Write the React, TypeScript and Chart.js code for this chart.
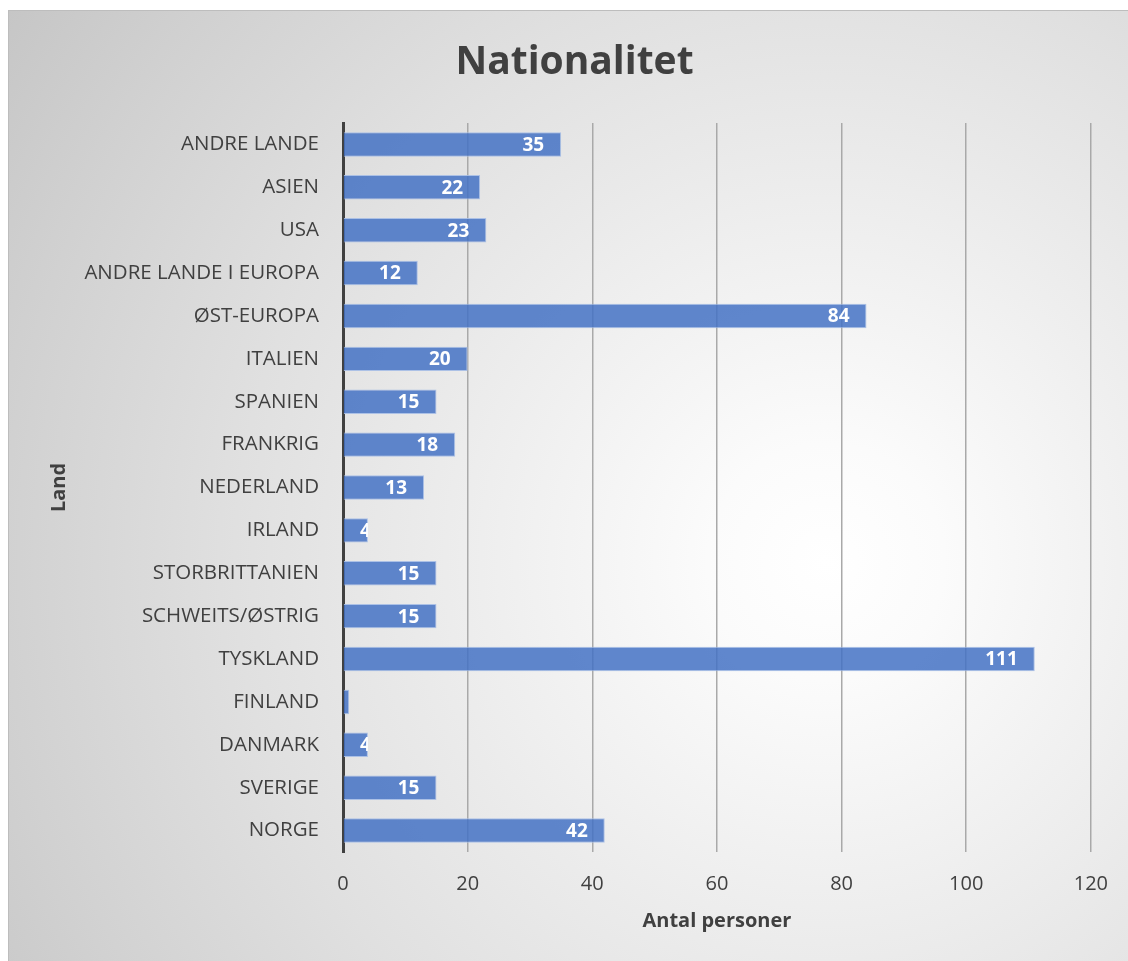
import React, { useEffect, useRef } from "react";
import { Chart, registerables } from "chart.js";

Chart.register(...registerables);

const categories = [
  "ANDRE LANDE",
  "ASIEN",
  "USA",
  "ANDRE LANDE I EUROPA",
  "ØST-EUROPA",
  "ITALIEN",
  "SPANIEN",
  "FRANKRIG",
  "NEDERLAND",
  "IRLAND",
  "STORBRITTANIEN",
  "SCHWEITS/ØSTRIG",
  "TYSKLAND",
  "FINLAND",
  "DANMARK",
  "SVERIGE",
  "NORGE",
];
const values = [35, 22, 23, 12, 84, 20, 15, 18, 13, 4, 15, 15, 111, 1, 4, 15, 42];
const chartTitle = "Nationalitet";
const xTitle = "Antal personer";
const yTitle = "Land";
const xMin = 0;
const xMax = 120;
const xStep = 20;

const FONT = "'Open Sans', 'Noto Sans', sans-serif";

const chartTitlePlugin = {
  id: "chartTitlePlugin",
  afterDraw(chart: any) {
    const { ctx } = chart;
    ctx.save();
    ctx.font = `bold 39px ${FONT}`;
    ctx.fillStyle = "#404040";
    ctx.textAlign = "center";
    ctx.textBaseline = "middle";
    ctx.fillText(chartTitle, chart.width / 2 + 6, 52);
    ctx.restore();
  },
};

const insideEndLabels = {
  id: "insideEndLabels",
  afterDatasetsDraw(chart: any) {
    const { ctx } = chart;
    const meta = chart.getDatasetMeta(0);
    ctx.save();
    ctx.font = `bold 19px ${FONT}`;
    ctx.fillStyle = "#ffffff";
    ctx.textBaseline = "middle";
    ctx.textAlign = "left";
    meta.data.forEach((bar: any, i: number) => {
      const { x, y, base, height } = bar.getProps(["x", "y", "base", "height"], true);
      const w = x - base;
      if (w < 10) return;
      const text = String(values[i]);
      const tw = ctx.measureText(text).width;
      let tx = x - 17 - tw;
      if (tx < base + 6) tx = x - 8;
      ctx.save();
      ctx.beginPath();
      ctx.rect(base, y - height / 2, w, height);
      ctx.clip();
      ctx.fillText(text, tx, y + 1);
      ctx.restore();
    });
    ctx.restore();
  },
};

export default function App() {
  const canvasRef = useRef<HTMLCanvasElement>(null);

  useEffect(() => {
    if (!canvasRef.current) return;
    const chart = new Chart(canvasRef.current, {
      type: "bar",
      data: {
        labels: categories,
        datasets: [
          {
            data: values,
            backgroundColor: "rgba(68,114,196,0.85)",
            borderColor: "rgba(165,188,230,0.9)",
            borderWidth: 1,
            categoryPercentage: 1,
            barPercentage: 0.57,
          },
        ],
      },
      options: {
        indexAxis: "y",
        animation: false,
        responsive: true,
        maintainAspectRatio: false,
        layout: { padding: { left: 0, right: 34, top: 112, bottom: 28 } },
        plugins: {
          legend: { display: false },
          tooltip: { enabled: false },
          title: { display: false },
        },
        scales: {
          x: {
            min: xMin,
            max: xMax,
            ticks: {
              stepSize: xStep,
              color: "#404040",
              font: { family: FONT, size: 20, lineHeight: 1.2 },
              padding: 20,
            },
            grid: {
              drawTicks: false,
              lineWidth: 1.5,
              color: (ctx: any) => (ctx.tick && ctx.tick.value === 0 ? "rgba(0,0,0,0)" : "#a9a9a9"),
            },
            border: { display: false },
            title: {
              display: true,
              text: xTitle,
              color: "#404040",
              font: { family: FONT, size: 20, weight: "bold", lineHeight: 1.2 },
              padding: { top: -7, bottom: 0 },
            },
          },
          y: {
            ticks: {
              color: "#404040",
              font: { family: FONT, size: 20.5, lineHeight: 1.2 },
              padding: 24,
            },
            grid: { display: false, drawTicks: false },
            border: { display: true, color: "#404040", width: 3 },
            title: {
              display: true,
              text: yTitle,
              color: "#404040",
              font: { family: FONT, size: 20, weight: "bold", lineHeight: 1.2 },
              padding: { top: 38, bottom: 0 },
            },
            afterFit: (scale: any) => {
              scale.width = 334;
            },
          },
        },
      },
      plugins: [insideEndLabels, chartTitlePlugin],
    } as any);
    return () => chart.destroy();
  }, []);

  return (
    <div
      style={{
        position: "absolute",
        left: 8,
        top: 10,
        width: 1120,
        height: 951,
        boxSizing: "border-box",
        borderTop: "1px solid #bdbdbd",
        borderLeft: "1px solid #bdbdbd",
        background:
          "radial-gradient(circle farthest-corner at 73% 58%, #ffffff 0%, #fbfbfb 12%, #eeeeee 35%, #e0e0e0 60%, #d0d0d0 85%, #c6c6c6 100%)",
      }}
    >
      <canvas ref={canvasRef} />
    </div>
  );
}
